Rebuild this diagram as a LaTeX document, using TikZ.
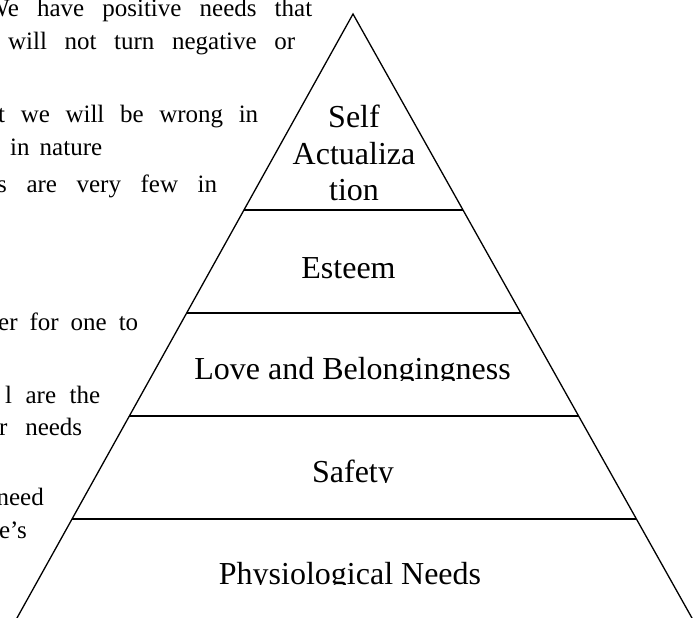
\documentclass[tikz,border=0pt]{standalone}
\usepackage{fontspec}
\setmainfont{Liberation Serif}
\usetikzlibrary{calc}
\begin{document}
\begin{tikzpicture}[x=1pt,y=-1pt,
  edge/.style={line width=1.3pt, line join=miter, line cap=butt},
  lefttext/.style={inner sep=0pt, anchor=base west, font=\fontsize{25}{30}\selectfont},
  level/.style={inner sep=0pt, anchor=base, font=\fontsize{32}{37}\selectfont}]
\useasboundingbox (0,0) rectangle (693,618);
\clip (0,0) rectangle (693,618);
% pyramid outline
\coordinate (apex) at (353,14);
\coordinate (bl) at (10.3,630);
\coordinate (br) at (698.7,630);
\draw[edge] (bl) -- (apex) -- (br);
% level dividers
\coordinate (l1) at ($(apex)!0.3182!(bl)$);
\coordinate (r1) at ($(apex)!0.3182!(br)$);
\coordinate (l2) at ($(apex)!0.4854!(bl)$);
\coordinate (r2) at ($(apex)!0.4854!(br)$);
\coordinate (l3) at ($(apex)!0.6526!(bl)$);
\coordinate (r3) at ($(apex)!0.6526!(br)$);
\coordinate (l4) at ($(apex)!0.8198!(bl)$);
\coordinate (r4) at ($(apex)!0.8198!(br)$);
\draw[edge] (l1) -- (r1);
\draw[edge] (l2) -- (r2);
\draw[edge] (l3) -- (r3);
\draw[edge] (l4) -- (r4);
% level labels
\node[level] (self) at (354,127) {Self};
\node[level] (act) at (354,164) {Actualiza};
\node[level] (tion) at (354,200) {tion};
\node[level] (esteem) at (348.5,278) {Esteem};
\begin{scope}
  \clip (150,330) rectangle (560,380);
  \node[level] (love) at (352.5,379) {Love and Belongingness};
\end{scope}
\begin{scope}
  \clip (250,430) rectangle (460,482.5);
  \node[level] (safety) at (353,482) {Safety};
\end{scope}
\begin{scope}
  \clip (150,530) rectangle (560,584.5);
  \node[level] (phys) at (350,584) {Physiological Needs};
\end{scope}
% wrapped body text at the left
\node[lefttext] (t1) at (-14,17) {\makebox[326pt][s]{We have positive needs that}};
\node[lefttext] (t2) at (8,50) {\makebox[287pt][s]{will not turn negative or}};
\node[lefttext] (t3) at (-2,122) {\makebox[260pt][s]{t we will be wrong in}};
\node[lefttext] (t4) at (10,155) {\makebox[92pt][s]{in nature}};
\node[lefttext] (t5) at (-3,192) {\makebox[220pt][s]{s are very few in}};
\node[lefttext] (t6) at (-2,330) {\makebox[140pt][s]{er for one to}};
\node[lefttext] (t7) at (5,403) {\makebox[95pt][s]{l are the}};
\node[lefttext] (t8) at (-1,435) {\makebox[83pt][s]{r needs}};
\node[lefttext, anchor=base east] (t9) at (44,505) {need};
\node[lefttext, anchor=base east] (t10) at (27,538) {e’s};
\end{tikzpicture}
\end{document}
